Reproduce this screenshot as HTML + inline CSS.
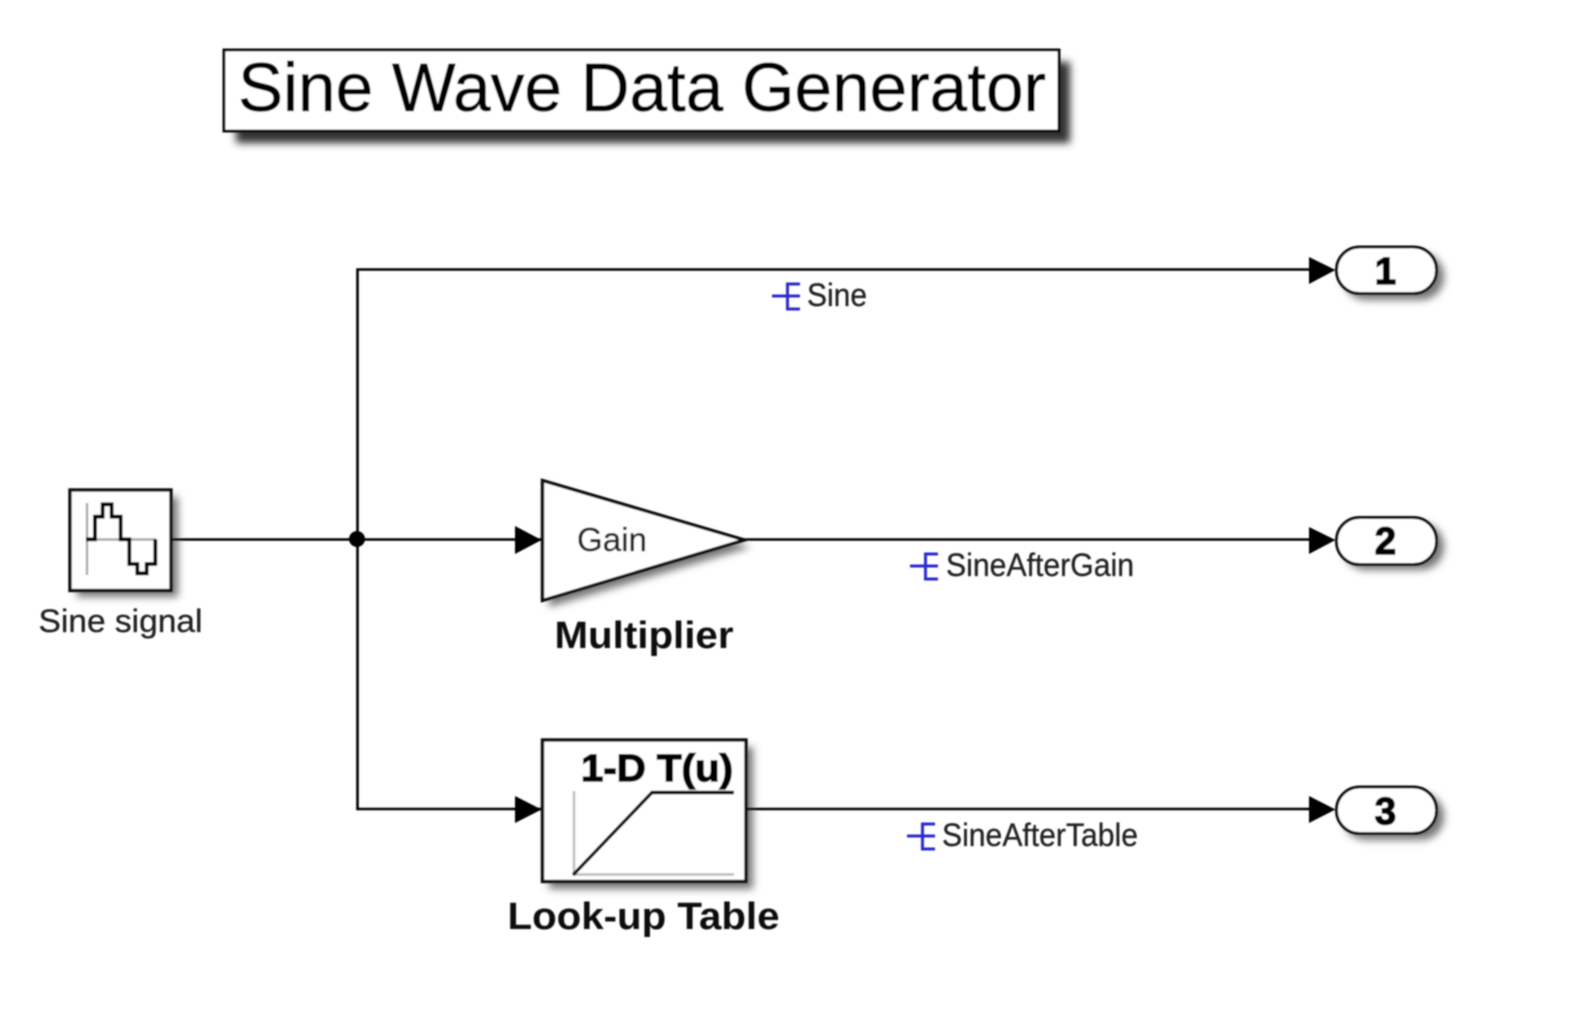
<!DOCTYPE html>
<html>
<head>
<meta charset="utf-8">
<style>
html,body{margin:0;padding:0;background:#fff;}
svg{display:block;}
text{font-family:"Liberation Sans",sans-serif;}
</style>
</head>
<body>
<svg xmlns="http://www.w3.org/2000/svg" width="1569" height="1018" viewBox="0 0 1569 1018">
<defs>
<filter id="soft" x="-2%" y="-2%" width="104%" height="104%"><feGaussianBlur stdDeviation="0.9"/></filter>
<filter id="sh" x="-20%" y="-40%" width="140%" height="180%"><feGaussianBlur stdDeviation="4"/></filter>
</defs>
<rect width="1569" height="1018" fill="#fff"/>
<g filter="url(#soft)">
<!-- shadows -->
<g filter="url(#sh)">
<rect x="236" y="62" width="834" height="81" fill="#333"/>
<rect x="77" y="497" width="101" height="100" fill="#777"/>
<polygon points="549,487 751,547 549,607" fill="#777"/>
<rect x="549" y="747" width="204" height="142" fill="#777"/>
<rect x="1343" y="253" width="101" height="47" rx="23" fill="#777"/>
<rect x="1343" y="523" width="101" height="47" rx="23" fill="#777"/>
<rect x="1343" y="793" width="101" height="47" rx="23" fill="#777"/>
</g>
<!-- title -->
<rect x="224" y="50" width="835" height="81" fill="#fff" stroke="#111" stroke-width="3"/>
<text x="238" y="111" font-size="69" fill="#000" stroke="#000" stroke-width="0.6" textLength="808" lengthAdjust="spacingAndGlyphs">Sine Wave Data Generator</text>
<!-- lines -->
<g fill="none" stroke="#000" stroke-width="2.6">
<path d="M171 539.5H1312"/>
<path d="M1312 269.5H357.5V809H1312"/>
</g>
<circle cx="357" cy="539" r="8" fill="#000"/>
<!-- arrowheads -->
<g fill="#000">
<polygon points="1309,257 1335.5,270 1309,284"/>
<polygon points="1309,527 1335.5,540 1309,554"/>
<polygon points="1309,796 1335.5,809.5 1309,823"/>
<polygon points="515,526 541.5,540 515,554"/>
<polygon points="515,796 541.5,809.5 515,823"/>
</g>
<!-- sine block -->
<rect x="70" y="490" width="101" height="100.5" fill="#fff" stroke="#111" stroke-width="3.4"/>
<path d="M87 503V575M86 539.5H156" stroke="#aaa" stroke-width="2.4" fill="none"/>
<path d="M86 539.3H95V516.7H102.7V504.3H111.7V516.7H120.7V539.3H129.3V564H137.3V573.3H146.7V564H155.3V539.3" stroke="#000" stroke-width="3.8" fill="none"/>
<text x="120.5" y="632" font-size="32" fill="#222" stroke="#222" stroke-width="0.3" text-anchor="middle" textLength="164" lengthAdjust="spacingAndGlyphs">Sine signal</text>
<!-- gain -->
<polygon points="542.5,480.5 744.5,540 542.5,600.5" fill="#fff" stroke="#111" stroke-width="3.4" stroke-linejoin="miter"/>
<text x="577" y="551" font-size="33" fill="#222" stroke="#222" stroke-width="0.4" textLength="70" lengthAdjust="spacingAndGlyphs">Gain</text>
<text x="644" y="648" font-size="38" font-weight="bold" fill="#111" text-anchor="middle" textLength="179" lengthAdjust="spacingAndGlyphs">Multiplier</text>
<!-- lookup -->
<rect x="542.5" y="740" width="203.5" height="141.5" fill="#fff" stroke="#111" stroke-width="3.4"/>
<path d="M574 791V874.5H734" stroke="#bbb" stroke-width="2.4" fill="none"/>
<path d="M573 875L652 792.5H734" stroke="#000" stroke-width="3.4" fill="none"/>
<text x="581" y="781" font-size="38" font-weight="bold" fill="#000" stroke="#000" stroke-width="1.4" textLength="152" lengthAdjust="spacingAndGlyphs">1-D T(u)</text>
<text x="643.5" y="929" font-size="38" font-weight="bold" fill="#111" text-anchor="middle" textLength="272" lengthAdjust="spacingAndGlyphs">Look-up Table</text>
<!-- outports -->
<g fill="#fff" stroke="#111" stroke-width="3">
<rect x="1336.5" y="247" width="100" height="46.5" rx="23"/>
<rect x="1336.5" y="517.5" width="100" height="47" rx="23"/>
<rect x="1336.5" y="787" width="100" height="46.5" rx="23"/>
</g>
<g font-size="38" font-weight="bold" fill="#000" stroke="#000" stroke-width="1.6" text-anchor="middle">
<text x="1385.5" y="284">1</text>
<text x="1385.5" y="554">2</text>
<text x="1385.5" y="824">3</text>
</g>
<!-- test points -->
<g fill="none" stroke="#2a2ad0" stroke-width="3">
<path d="M772 296H800M800 284H787.5V309H800"/>
<path d="M910 566H938M938 554H925.5V579H938"/>
<path d="M907 836H935M935 824H922.5V849H935"/>
</g>
<g font-size="32" fill="#222" stroke="#222" stroke-width="0.3">
<text x="807" y="306" textLength="60" lengthAdjust="spacingAndGlyphs">Sine</text>
<text x="946" y="576" textLength="188" lengthAdjust="spacingAndGlyphs">SineAfterGain</text>
<text x="942" y="846" textLength="196" lengthAdjust="spacingAndGlyphs">SineAfterTable</text>
</g>
</g>
</svg>
</body>
</html>
